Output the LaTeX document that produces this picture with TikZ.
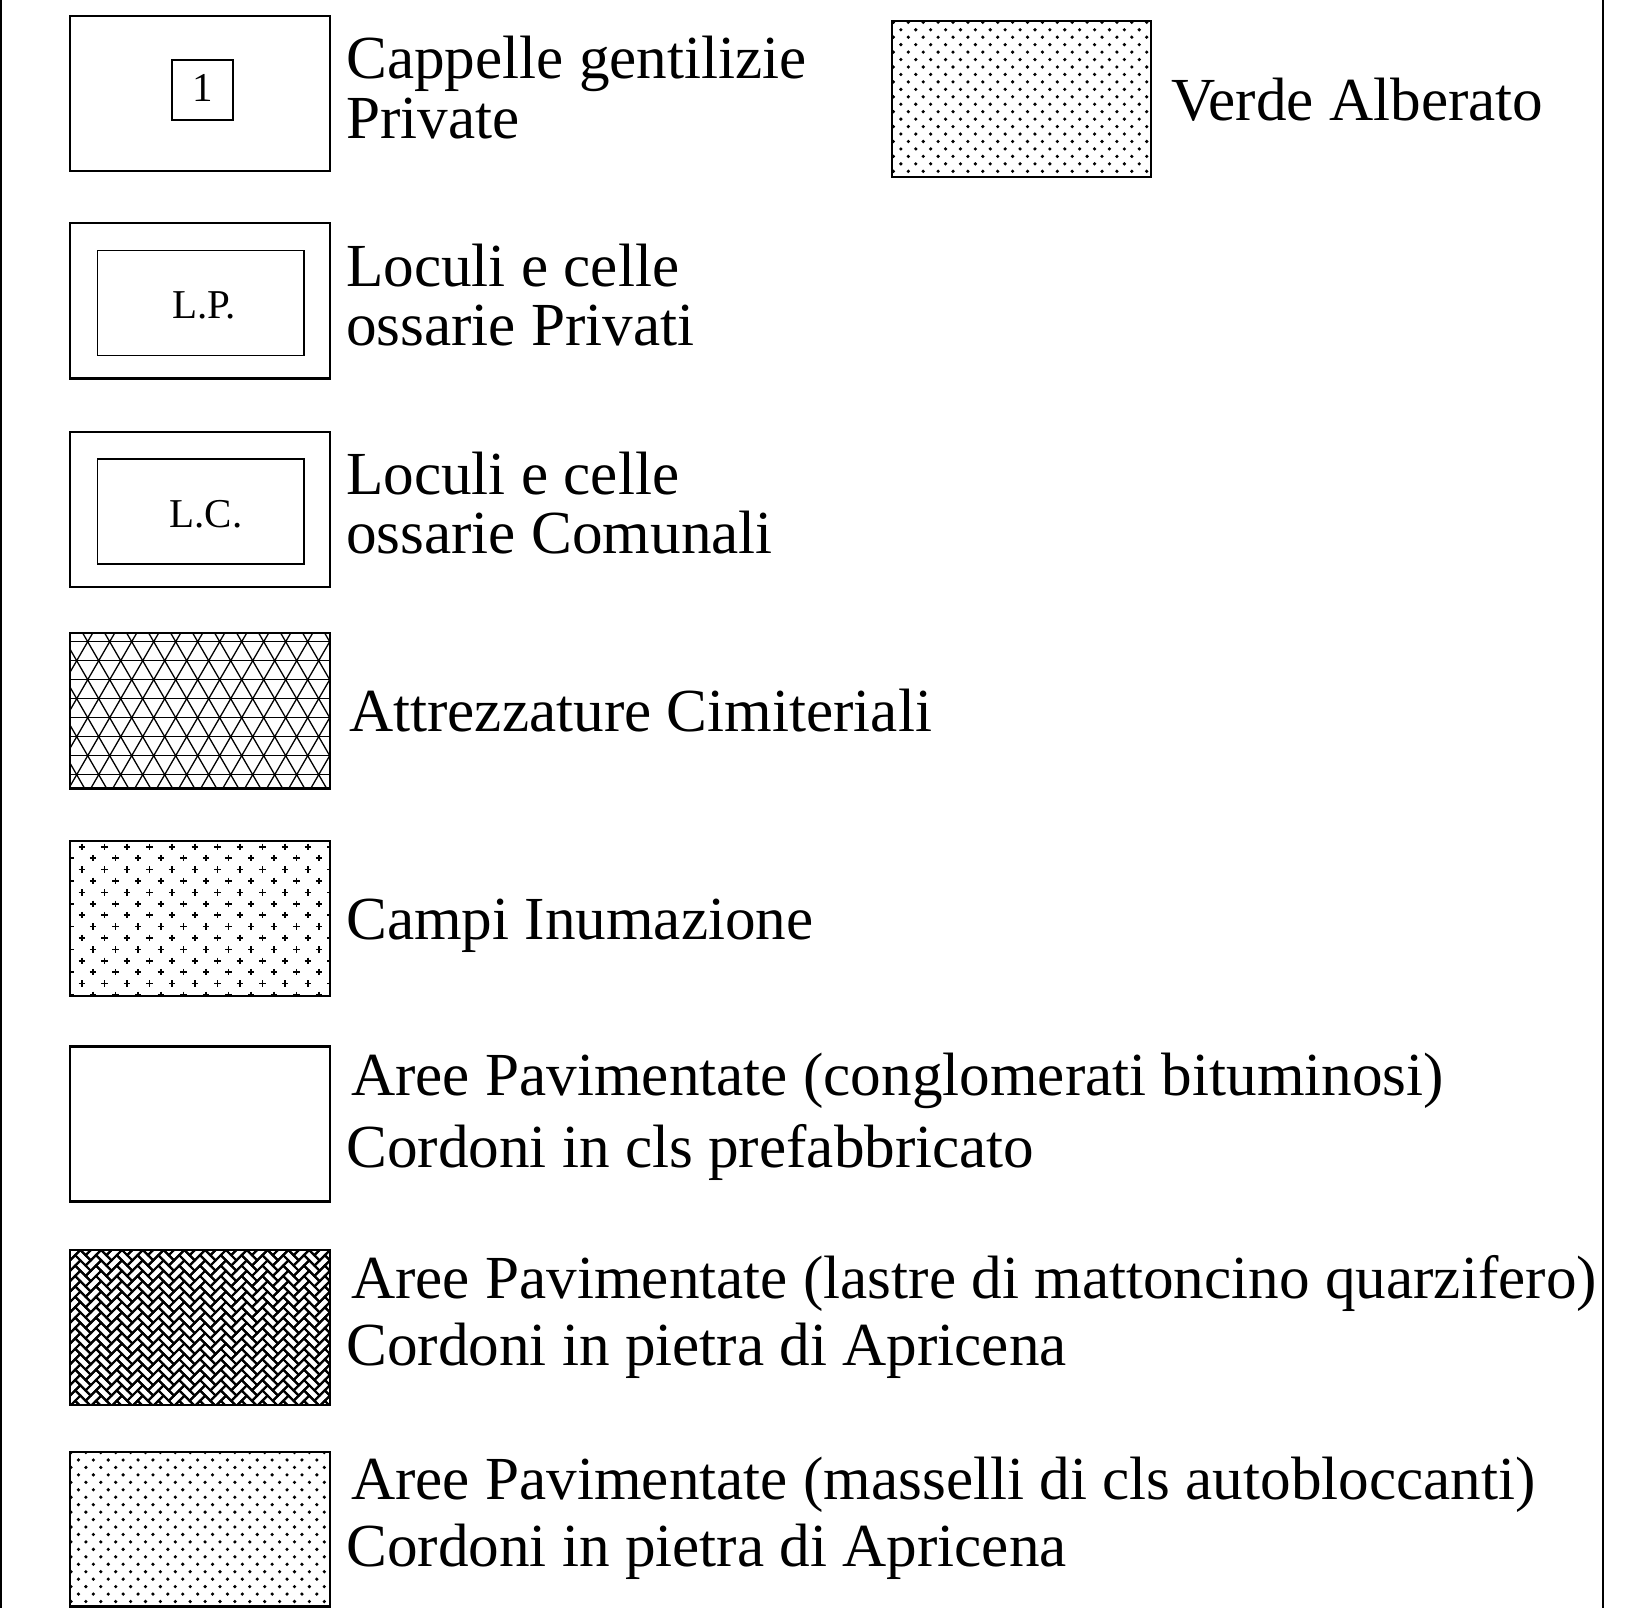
\documentclass[tikz,border=0pt]{standalone}
\usepackage{fontspec}
\setmainfont{Liberation Serif}
\begin{document}
\begin{tikzpicture}[x=1pt,y=-1pt,
  lbl/.style={anchor=base west,inner sep=0pt,font=\fontsize{61.2pt}{61.2pt}\selectfont},
  sml/.style={anchor=base,inner sep=0pt,font=\fontsize{41pt}{41pt}\selectfont},
  outerbox/.style={draw=black,line width=2.2pt},
  innerbox/.style={draw=black,line width=1.2pt},
  hatch/.style={line width=1.3pt},
  crossline/.style={line width=1.6pt},
  mortar/.style={line width=2.1pt},
  pagerule/.style={line width=2pt}]
\useasboundingbox (0,0) rectangle (1644,1608);

% page side rules
\coordinate (lt) at (1,0); \coordinate (lb) at (1,1608);
\coordinate (rt) at (1603,0); \coordinate (rb) at (1603,1608);
\draw[pagerule] (lt) -- (lb);
\draw[pagerule] (rt) -- (rb);

% ---------- Verde Alberato (dots) ----------
\begin{scope}
\clip (892,21) rectangle (1151,177);
\foreach \j in {0,...,10}{
  \foreach \i in {0,...,17}{
    \fill (893.4+14.9*\i,22.3+14.9*\j) circle[radius=1.8];
    \fill (900.85+14.9*\i,29.75+14.9*\j) circle[radius=1.8];
  }}
\end{scope}
\draw[outerbox] (892,21) rectangle (1151,177);

% ---------- Row 1 ----------
\draw[outerbox] (70,16) rectangle (330,171);
\draw[innerbox] (172,60) rectangle (233,120);
\node[sml] (n1) at (202.5,102) {1};

% ---------- Row 2 ----------
\draw[outerbox] (70,223) rectangle (330,378.5);
\draw[innerbox] (97.5,250.6) rectangle (304,355.4);
\node[sml] (nlp) at (204,318) {L.P.};

% ---------- Row 3 ----------
\draw[outerbox] (70,432) rectangle (330,587);
\draw[innerbox] (97.5,459) rectangle (304,564);
\node[sml] (nlc) at (206,527) {L.C.};

% ---------- Row 4 (triangular grid) ----------
\begin{scope}
\clip (70,633) rectangle (330,788.5);
\foreach \k in {0,...,7} \draw[hatch] (70,641.7+19*\k) -- (330,641.7+19*\k);
\foreach \k in {-6,...,16}{
  \draw[hatch] (87.7+22*\k-5.5,632.2) -- (87.7+22*\k+88,793.7);
  \draw[hatch] (87.7+22*\k+5.5,632.2) -- (87.7+22*\k-88,793.7);
}
\end{scope}
\draw[outerbox] (70,633) rectangle (330,788.5);

% ---------- Row 5 (crosses) ----------
\begin{scope}
\clip (70,841) rectangle (330,996);
\foreach \j in {0,...,6}{
  \foreach \i in {0,...,11}{
    \draw[crossline] (81.7+22.6*\i-3.2,846.7+22.8*\j) -- (81.7+22.6*\i+3.2,846.7+22.8*\j)
                 (81.7+22.6*\i,846.7+22.8*\j-3.2) -- (81.7+22.6*\i,846.7+22.8*\j+3.2);
    \draw[crossline] (70.4+22.6*\i-3.2,858.1+22.8*\j) -- (70.4+22.6*\i+3.2,858.1+22.8*\j)
                 (70.4+22.6*\i,858.1+22.8*\j-3.2) -- (70.4+22.6*\i,858.1+22.8*\j+3.2);
  }}
\end{scope}
\draw[outerbox] (70,841) rectangle (330,996);

% ---------- Row 6 (plain) ----------
\draw[outerbox] (70,1046.5) rectangle (330,1201.5);

% ---------- Row 7 (herringbone) ----------
\begin{scope}
\clip (70,1250) rectangle (330,1405);
\begin{scope}[shift={(70,1250)}, x={(5.2pt,5.2pt)}, y={(-5.2pt,5.2pt)}]
\foreach \a in {-17,...,3}{
  \foreach \b in {-2,...,13}{
    \draw[mortar] (\a+2*\b,\a-2*\b) -- ++(2,0) -- ++(0,1) -- ++(-2,0) -- cycle;
    \draw[mortar] (\a+2*\b+2,\a-2*\b-1) -- ++(1,0) -- ++(0,2) -- ++(-1,0) -- cycle;
  }}
\end{scope}
\end{scope}
\draw[outerbox] (70,1250) rectangle (330,1405);

% ---------- Row 8 (dots) ----------
\begin{scope}
\clip (70,1452) rectangle (330,1606.5);
\foreach \j in {0,...,10}{
  \foreach \i in {0,...,17}{
    \fill (71+14.9*\i,1452.5+14.9*\j) circle[radius=1.8];
    \fill (78.45+14.9*\i,1459.95+14.9*\j) circle[radius=1.8];
  }}
\end{scope}
\draw[outerbox] (70,1452) rectangle (330,1606.5);

% ---------- Labels ----------
\node[lbl] (t1a) at (346,79) {Cappelle gentilizie};
\node[lbl] (t1b) at (346,139) {Private};
\node[lbl] (tv) at (1171,121) {Verde Alberato};
\node[lbl] (t2a) at (346,286) {Loculi e celle};
\node[lbl] (t2b) at (346,345) {ossarie Privati};
\node[lbl] (t3a) at (346,494) {Loculi e celle};
\node[lbl] (t3b) at (346,553) {ossarie Comunali};
\node[lbl] (t4) at (349,731) {Attrezzature Cimiteriali};
\node[lbl] (t5) at (346,939) {Campi Inumazione};
\node[lbl] (t6a) at (351,1095) {Aree Pavimentate (conglomerati bituminosi)};
\node[lbl] (t6b) at (346,1167) {Cordoni in cls prefabbricato};
\node[lbl] (t7a) at (351,1298) {Aree Pavimentate (lastre di mattoncino quarzifero)};
\node[lbl] (t7b) at (346,1365) {Cordoni in pietra di Apricena};
\node[lbl] (t8a) at (351,1499) {Aree Pavimentate (masselli di cls autobloccanti)};
\node[lbl] (t8b) at (346,1566) {Cordoni in pietra di Apricena};
\end{tikzpicture}
\end{document}
